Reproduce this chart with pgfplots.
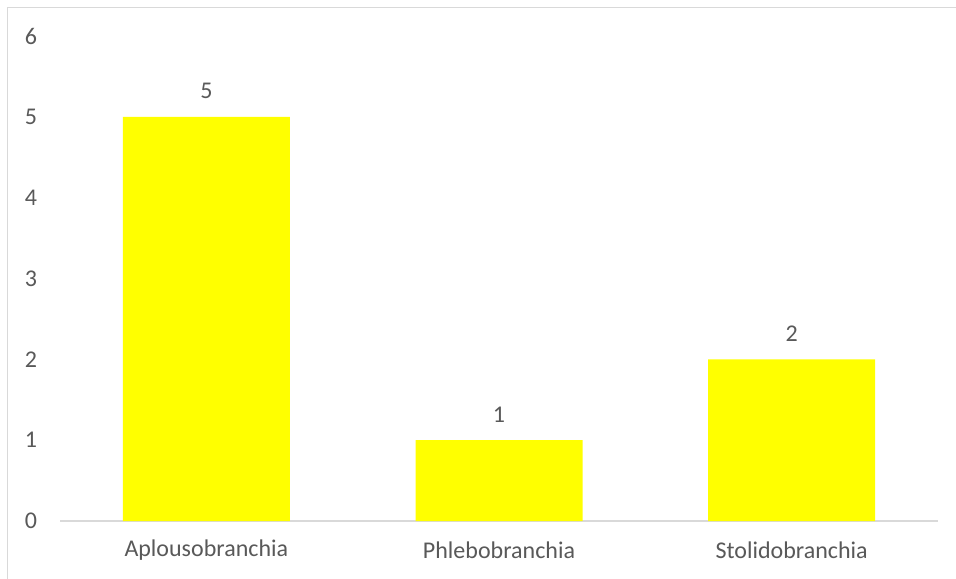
\documentclass[border=0pt]{standalone}
\usepackage{fontspec}
\setmainfont{Carlito}
\usepackage{pgfplots}
\pgfplotsset{compat=1.18}
\definecolor{txtgray}{HTML}{595959}
\definecolor{linegray}{HTML}{D9D9D9}
\definecolor{baryellow}{HTML}{FFFF00}
\begin{document}
\begin{tikzpicture}
\useasboundingbox (0,0) rectangle (956bp,579bp);
\fill[white] (0,0) rectangle (956bp,579bp);
\draw[linegray, line width=1.5bp] (7.5bp,-2bp) -- (7.5bp,571.5bp) -- (958bp,571.5bp);
\begin{axis}[
  at={(60bp,58bp)}, anchor=south west,
  scale only axis,
  width=878bp, height=485bp,
  xmin=-0.5, xmax=2.5,
  ymin=0, ymax=6,
  ytick={0,1,2,3,4,5,6},
  xtick={0,1,2},
  xticklabels={Aplousobranchia,Phlebobranchia,Stolidobranchia},
  axis lines*=left,
  x axis line style={linegray, line width=1.5bp, -},
  y axis line style={draw=none, -},
  major tick length=0pt,
  tick style={draw=none},
  font=\fontsize{24bp}{28bp}\selectfont,
  /pgf/number format/assume math mode=true,
  ticklabel style={text=txtgray},
  yticklabel style={anchor=center, xshift=-29bp},
  xticklabel style={anchor=center, yshift=-29bp},
  ybar, bar width=167bp,
  nodes near coords,
  every node near coord/.append style={anchor=base, yshift=18bp, text=txtgray, font=\fontsize{24bp}{28bp}\selectfont},
  clip=false,
]
\addplot[fill=baryellow, draw=none] coordinates {(0,5) (1,1) (2,2)};
\end{axis}
\end{tikzpicture}
\end{document}
